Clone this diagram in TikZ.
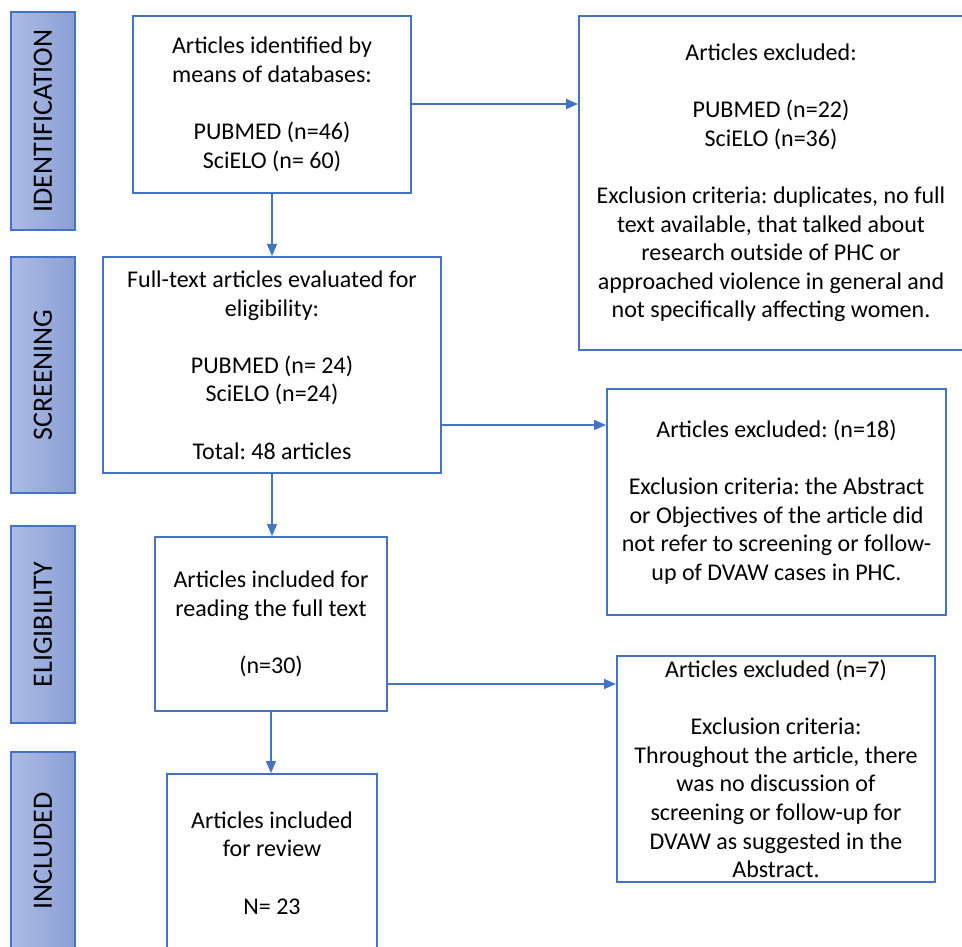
\documentclass[tikz,border=0pt]{standalone}
\usepackage{fontspec}
\setmainfont{Carlito}
\frenchspacing
\usetikzlibrary{arrows.meta}
\definecolor{bblue}{RGB}{68,114,196}
\definecolor{gradL}{RGB}{172,187,227}
\definecolor{gradR}{RGB}{138,159,214}
\begin{document}
\begin{tikzpicture}[x=0.5pt,y=-0.5pt,
  box/.style={draw=bblue,line width=1pt,fill=white,align=center,inner sep=0pt,
    font=\fontsize{12}{14.3}\selectfont\frenchspacing},
  side/.style={draw=bblue,line width=0.6pt,left color=gradL,right color=gradR,
    minimum width=32pt,inner sep=0pt,font=\fontsize{14}{16}\selectfont},
  arr/.style={draw=bblue,line width=0.75pt,-{Triangle[length=6pt,width=5pt]}}]
\useasboundingbox (0,0) rectangle (962,946);
% side labels
\node[side,minimum height=109pt] (sid) at (43,121) {\rotatebox{90}{IDENTIFICATION}};
\node[side,minimum height=118pt] (ssc) at (43,375) {\rotatebox{90}{SCREENING}};
\node[side,minimum height=98.5pt] (sel) at (43,624.5) {\rotatebox{90}{ELIGIBILITY}};
\node[side,minimum height=99pt] (sin) at (43,851) {\rotatebox{90}{INCLUDED}};
% main boxes
\node[box,minimum width=139pt,minimum height=88.5pt] (b1) at (272,104.5)
  {Articles identified by\\means of databases:\\[\baselineskip]PUBMED (n=46)\\SciELO (n= 60)};
\node[box,minimum width=169pt,minimum height=108pt] (b2) at (272,365)
  {Full-text articles evaluated for\\eligibility:\\[\baselineskip]PUBMED (n= 24)\\SciELO (n=24)\\[\baselineskip]Total: 48 articles};
\node[box,minimum width=116pt,minimum height=87pt] (b3) at (271,624)
  {Articles included for\\reading the full text\\[\baselineskip](n=30)};
\node[box,minimum width=105pt,minimum height=89pt] (b4) at (272,863)
  {Articles included\\for review\\[\baselineskip]N= 23};
% exclusion boxes
\node[box,minimum width=192pt,minimum height=167pt] (r1) at (771,183)
  {Articles excluded:\\[\baselineskip]PUBMED (n=22)\\SciELO (n=36)\\[\baselineskip]Exclusion criteria: duplicates, no full\\text available, that talked about\\research outside of PHC or\\approached violence in general and\\not specifically affecting women.};
\node[box,minimum width=169.5pt,minimum height=113pt] (r2) at (776.5,502)
  {Articles excluded: (n=18)\\[\baselineskip]Exclusion criteria: the Abstract\\or Objectives of the article did\\not refer to screening or follow-\\up of DVAW cases in PHC.};
\node[box,minimum width=159pt,minimum height=113pt] (r3) at (776,769)
  {Articles excluded (n=7)\\[\baselineskip]Exclusion criteria:\\Throughout the article, there\\was no discussion of\\screening or follow-up for\\DVAW as suggested in the\\Abstract.};
% connectors
\draw[arr] (b1.south) -- (b2.north);
\draw[arr] (b2.south) -- (b2.south |- b3.north);
\draw[arr] (b3.south) -- (b3.south |- b4.north);
\draw[arr] (b1.east |- 0,104) -- (r1.west |- 0,104);
\draw[arr] (b2.east |- 0,425) -- (r2.west |- 0,425);
\draw[arr] (b3.east |- 0,684) -- (r3.west |- 0,684);
\end{tikzpicture}
\end{document}
